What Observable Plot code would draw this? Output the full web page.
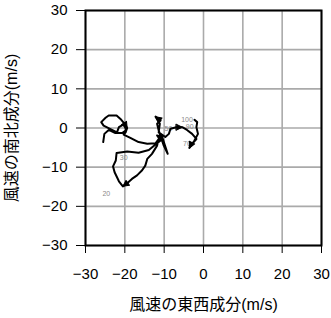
<!DOCTYPE html>
<html><head><meta charset="utf-8">
<script src="https://cdn.jsdelivr.net/npm/d3@7"></script>
<script src="https://cdn.jsdelivr.net/npm/@observablehq/plot@0.6"></script>
<style>html,body{margin:0;padding:0;background:#fff}</style>
</head><body><div id="chart"></div>
<script>
// Wind hodograph: east-west (u) and north-south (v) components, m/s
const windU = [-25.5,-25.2,-24.1,-22.4,-20.7,-19.6,-20.3,-21.5,-22.0,-25.4,-26.0,-24.9,-24.1,-22.1,-20.9,-20.1,-19.4,-19.8,-20.3,-18.6,-16.5,-14.3,-12.2,-11.4,-11.8,-13.1,-14.3,-14.8,-15.6,-16.9,-18.2,-19.4,-20.5,-21.5,-22.6,-23.0,-22.3,-22.1,-19.4,-16.5,-13.9,-12.2,-10.9,-11.8,-10.5,-9.1,-10.1,-11.4,-11.8,-10.9,-12.2,-11.1,-11.4,-9.7,-8.8,-8.4,-6.9,-5.4,-4.2,-2.9,-1.8,-3.3,-3.6,-2.3,-1.4,-1.8,-1.6,-2.3];
const windV = [-3.6,-1.5,-0.5,-1.3,-1.3,-0.5,0.9,0.2,-1.1,0.6,1.5,2.6,3.2,3.2,2.1,1.1,0.0,-1.1,-1.7,-2.5,-3.6,-4.0,-3.9,-2.8,-4.5,-6.6,-7.9,-9.6,-10.8,-12.1,-13.0,-14.1,-14.9,-13.6,-11.3,-9.8,-8.3,-6.4,-6.0,-6.3,-5.6,-4.2,-3.2,-1.9,-2.3,-6.6,-4.5,-0.6,1.1,1.9,2.9,1.1,-1.1,-2.3,-1.5,-0.2,0.2,0.2,-0.5,-1.5,-2.8,-4.5,-5.1,-3.2,-1.5,0.2,1.5,2.1];
// Indices of path points carrying an arrowhead
const arrowAt = [32, 50, 57, 62, 16];
// Level labels
const levelText = ["20","30","50","70","90","100"];
const levelU = [-24.7,-20.3,-8.9,-4.2,-3.5,-4.2];
const levelV = [-16.8,-7.7,-0.3,-3.9,0.4,2.1];
const ticks = [-30,-20,-10,0,10,20,30];
const xTitle = "風速の東西成分(m/s)";
const yTitle = "風速の南北成分(m/s)";

const path = windU.map((u, i) => ({u, v: windV[i]}));
const arrows = arrowAt.map(i => {
  const a = path[i], b = path[i - 1];
  return {u: a.u, v: a.v, rot: Math.atan2(a.u - b.u, a.v - b.v) * 180 / Math.PI};
});
const labels = levelText.map((t, i) => ({t, u: levelU[i], v: levelV[i]}));

const tri = {draw(context, l, r) {
  context.moveTo(-r, 0); context.lineTo(0, -l); context.lineTo(r, 0); context.closePath();
}};

const jp = "'Liberation Sans', 'Noto Sans CJK JP', sans-serif";
const chart = Plot.plot({
  width: 331, height: 318,
  marginLeft: 85, marginRight: 10, marginTop: 10, marginBottom: 73,
  x: {domain: [-30, 30]},
  y: {domain: [-30, 30]},
  style: {fontFamily: "'Liberation Sans', Arial, sans-serif", fontSize: "15px", background: "white", color: "black"},
  marks: [
    Plot.gridX(ticks, {stroke: "#aaa", strokeOpacity: 1, strokeWidth: 1.6}),
    Plot.gridY(ticks, {stroke: "#aaa", strokeOpacity: 1, strokeWidth: 1.6}),
    Plot.axisX(ticks, {tickSize: 8, tickPadding: 15, label: null, fontSize: 15}),
    Plot.axisY(ticks, {tickSize: 9, tickPadding: 9, label: null, fontSize: 15}),
    Plot.text(labels, {x: "u", y: "v", text: "t", fill: "#8a8a8a", fontSize: 7}),
    Plot.line(path, {x: "u", y: "v", stroke: "black", strokeWidth: 2, strokeLinejoin: "round"}),
    Plot.vector(arrows, {x: "u", y: "v", rotate: "rot", length: 6, r: 3, shape: tri, anchor: "end", fill: "black", stroke: "black", strokeWidth: 1}),
    Plot.frame({stroke: "black", strokeWidth: 2}),
    Plot.text([xTitle], {frameAnchor: "bottom", dy: 64, fontSize: 16, fontFamily: jp}),
    Plot.text([yTitle], {frameAnchor: "left", textAnchor: "middle", dx: -74, rotate: -90, fontSize: 16, fontFamily: jp})
  ]
});
document.getElementById("chart").appendChild(chart);
</script></body></html>
